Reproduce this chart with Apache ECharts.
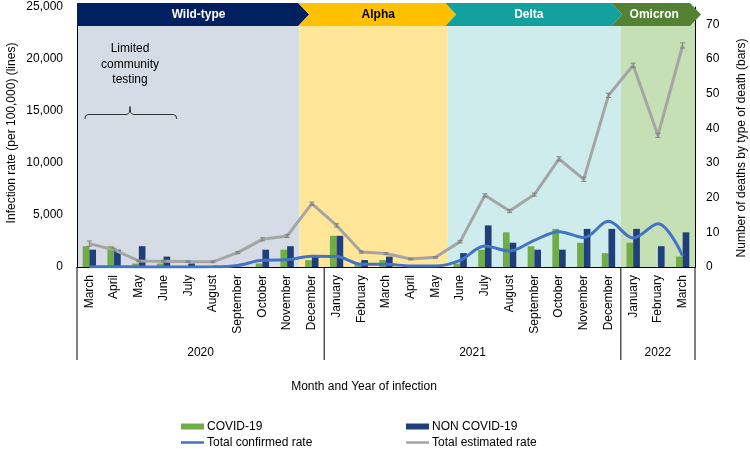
<!DOCTYPE html>
<html><head><meta charset="utf-8">
<script src="https://cdn.jsdelivr.net/npm/echarts@6/dist/echarts.min.js"></script>
<style>html,body{margin:0;padding:0;background:#fff}#c{width:750px;height:449px}</style>
</head><body><div id="c"></div>
<script>
// ---------- DATA ----------
const months = ['March','April','May','June','July','August','September','October','November','December',
  'January','February','March','April','May','June','July','August','September','October','November','December',
  'January','February','March'];
const years = ['2020','2021','2022'];
const yearFirst = [0, 10, 22];
const yearLast = [9, 21, 24];
const variants = ['Wild-type','Alpha','Delta','Omicron'];
const variantFirst = [0, 9, 15, 22];
const variantLast = [8, 14, 21, 24];
const covidDeaths =    [6, 6, 1, 1, 0, 0, 0, 1, 5, 2,  9, 1, 2, 0, 0, 1, 5, 10, 6, 11, 7, 4,  7, 0, 3];
const nonCovidDeaths = [5, 5, 6, 3, 1, 0, 0, 5, 6, 3,  9, 2, 3, 0, 0, 4, 12, 7, 5, 5, 11, 11,  11, 6, 10];
const confirmedRate = [30, 20, 10, 10, 10, 20, 150, 650, 700, 1030, 1000, 260, 260, 100, 100, 640, 2020, 1540, 2570, 3400, 2830, 4390, 2790, 4170, 1060];
const estimatedRate = [2250, 1650, 580, 550, 520, 500, 1380, 2660, 2980, 6090, 4000, 1440, 1290, 770, 930, 2440, 6890, 5380, 6960, 10400, 8430, 16500, 19400, 12660, 21300];
const estimatedErrLow = [250, 150, 80, 80, 80, 80, 100, 150, 150, 150, 150, 100, 100, 80, 80, 120, 150, 150, 150, 200, 200, 200, 200, 200, 250];
const estimatedErrHigh = [250, 150, 80, 80, 80, 80, 100, 150, 150, 150, 150, 100, 100, 80, 80, 120, 150, 150, 150, 200, 200, 200, 200, 200, 250];
const leftAxisMax = 25000, leftAxisStep = 5000;
const rightAxisMax = 75, rightAxisStep = 10;
const seriesNames = ['COVID-19', 'NON COVID-19', 'Total confirmed rate', 'Total estimated rate'];
const axisTitleLeft = 'Infection rate (per 100,000) (lines)';
const axisTitleRight = 'Number of deaths by type of death (bars)';
const axisTitleX = 'Month and Year of infection';
const noteText = 'Limited\ncommunity\ntesting';

// ---------- STYLE ----------
const FONT = '"Liberation Sans", Arial, sans-serif';
const bandFill = ['#D6DCE5', '#FFE699', '#CDECEB', '#C5E0B4'];
const bannerFill = ['#002060', '#FFC000', '#12A19C', '#548235'];
const bannerTextColor = ['#ffffff', '#000000', '#ffffff', '#ffffff'];
const bannerInset = [1.3, 2.5, 9.4, 5];
const bannerTextShift = [11, 1, -5, -2];
const bannerTip = 11, bannerTop = 3, bannerBottom = 26;

const fmt = v => String(v).replace(/\B(?=(\d{3})+(?!\d))/g, ',');

const chart = echarts.init(document.getElementById('c'), null, {renderer: 'canvas'});

function bandItem(params, api) {
  const i = params.dataIndex;
  const bw = api.size([1, 0])[0];
  const x0 = api.coord([api.value(0), 0])[0] - bw / 2;
  const x1 = api.coord([api.value(1), 0])[0] + bw / 2;
  const cs = params.coordSys;
  return {type: 'rect', shape: {x: x0, y: cs.y, width: x1 - x0, height: cs.height},
    style: {fill: bandFill[i]}, silent: true};
}

function bannerItem(params, api) {
  const i = params.dataIndex;
  const bw = api.size([1, 0])[0];
  const cs = params.coordSys;
  const rightEdge = k => api.coord([k, 0])[0] + bw / 2;
  const bodyEnd = j => rightEdge(variantLast[j]) - bannerInset[j];
  const x0 = i === 0 ? cs.x : bodyEnd(i - 1);
  const notch = i === 0 ? 0 : bannerTip;
  const x1 = bodyEnd(i);
  const tip = x1 + bannerTip;
  const mid = (bannerTop + bannerBottom) / 2;
  const pts = [[x0, bannerTop], [x1, bannerTop], [tip, mid], [x1, bannerBottom], [x0, bannerBottom], [x0 + notch, mid]];
  return {type: 'group', children: [
    {type: 'polygon', shape: {points: pts}, style: {fill: bannerFill[i]}},
    {type: 'text', style: {text: variants[i], x: (x0 + notch + x1) / 2 + bannerTextShift[i], y: mid + 0.5,
      align: 'center', verticalAlign: 'middle', fill: bannerTextColor[i],
      font: 'bold 12px ' + FONT}}
  ]};
}

function errItem(params, api) {
  const lo = api.coord([api.value(0), api.value(1)]);
  const hi = api.coord([api.value(0), api.value(2)]);
  const st = {stroke: '#7F7F7F', lineWidth: 1};
  return {type: 'group', children: [
    {type: 'line', shape: {x1: lo[0], y1: lo[1], x2: hi[0], y2: hi[1]}, style: st},
    {type: 'line', shape: {x1: lo[0] - 2.5, y1: lo[1], x2: lo[0] + 2.5, y2: lo[1]}, style: st},
    {type: 'line', shape: {x1: hi[0] - 2.5, y1: hi[1], x2: hi[0] + 2.5, y2: hi[1]}, style: st}
  ]};
}

const variantData = variants.map((v, i) => [variantFirst[i], variantLast[i], 0]);
const errData = estimatedRate.map((v, i) => [i, v - estimatedErrLow[i], v + estimatedErrHigh[i]]);

const legendText = {fontSize: 12, color: '#000', fontFamily: FONT, padding: [0, 0, 0, -2]};
const mkLegend = (name, left, top, h) => ({left: left, top: top, padding: 0, orient: 'horizontal', itemWidth: 23, itemHeight: h,
  icon: 'rect', data: [name], textStyle: legendText, selectedMode: false});

const option = {
  animation: false,
  grid: {left: 77, right: 55, top: 7, bottom: 182, containLabel: false, outerBoundsMode: 'none'},
  legend: [
    mkLegend(seriesNames[0], 181, 420.5, 6),
    mkLegend(seriesNames[1], 406, 420.5, 6),
    mkLegend(seriesNames[2], 181, 436.5, 2.5),
    mkLegend(seriesNames[3], 406, 436.5, 2.5)
  ],
  xAxis: {
    type: 'category', data: months, boundaryGap: true,
    axisLine: {show: true, lineStyle: {color: '#000', width: 1}},
    axisTick: {show: false},
    axisLabel: {interval: 0, rotate: 90, margin: 8, fontSize: 12, color: '#000', fontFamily: FONT},
    splitLine: {show: false}
  },
  yAxis: [
    {type: 'value', min: 0, max: leftAxisMax, interval: leftAxisStep, position: 'left',
      axisLine: {show: true, lineStyle: {color: '#000', width: 1}}, axisTick: {show: false},
      splitLine: {show: false},
      axisLabel: {formatter: fmt, fontSize: 12, color: '#000', fontFamily: FONT, margin: 14}},
    {type: 'value', min: 0, max: rightAxisMax, interval: rightAxisStep, position: 'right',
      axisLine: {show: true, lineStyle: {color: '#000', width: 1}}, axisTick: {show: false},
      splitLine: {show: false},
      axisLabel: {showMaxLabel: false, formatter: v => (v > 70 ? '' : String(v)), fontSize: 12, color: '#000', fontFamily: FONT, margin: 11}}
  ],
  series: [
    {type: 'custom', name: 'bands', renderItem: bandItem, data: variantData, encode: {x: [0, 1], y: 2},
      z: 0, silent: true, clip: false, xAxisIndex: 0, yAxisIndex: 0},
    {type: 'bar', name: seriesNames[0], data: covidDeaths, yAxisIndex: 1, barGap: '0%', barCategoryGap: '46%',
      itemStyle: {color: '#70AD47'}, z: 2},
    {type: 'bar', name: seriesNames[1], data: nonCovidDeaths, yAxisIndex: 1, barGap: '0%', barCategoryGap: '46%',
      itemStyle: {color: '#203F7A'}, z: 2},
    {type: 'line', name: seriesNames[2], data: confirmedRate, yAxisIndex: 0, smooth: 0.35, symbol: 'none',
      lineStyle: {color: '#4472C4', width: 3}, itemStyle: {color: '#4472C4'}, z: 5},
    {type: 'line', name: seriesNames[3], data: estimatedRate, yAxisIndex: 0, smooth: false, symbol: 'none',
      lineStyle: {color: '#A5A5A5', width: 3}, itemStyle: {color: '#A5A5A5'}, z: 4},
    {type: 'custom', name: 'err', renderItem: errItem, data: errData, encode: {x: 0, y: [1, 2]},
      z: 6, silent: true, clip: false, yAxisIndex: 0},
    {type: 'custom', name: 'banner', renderItem: bannerItem, data: variantData, encode: {x: [0, 1], y: 2},
      z: 10, silent: true, clip: false, yAxisIndex: 0}
  ]
};
chart.setOption(option);

// annotations computed from the axis scales
const cx = i => chart.convertToPixel({xAxisIndex: 0}, i);
const bw = cx(1) - cx(0);
const yZero = chart.convertToPixel({yAxisIndex: 0}, 0);
const lowLine = yZero + 93;
const g = [];
const seps = [cx(0) - bw / 2].concat(yearLast.map(k => cx(k) + bw / 2));
seps.forEach(x => g.push({type: 'line', z: 100, shape: {x1: x, y1: yZero, x2: x, y2: lowLine},
  style: {stroke: '#000', lineWidth: 1}}));
years.forEach((y, i) => {
  const xc = (cx(yearFirst[i]) + cx(yearLast[i])) / 2;
  g.push({type: 'text', z: 100, style: {text: y, x: xc, y: yZero + 86, align: 'center', verticalAlign: 'middle',
    font: '12px ' + FONT, fill: '#000'}});
});
g.push({type: 'text', z: 100, style: {text: axisTitleX, x: 364, y: 387, align: 'center', verticalAlign: 'middle',
  font: '12px ' + FONT, fill: '#000'}});
g.push({type: 'text', z: 100, x: 12, y: 133, rotation: Math.PI / 2,
  style: {text: axisTitleLeft, x: 0, y: 0, align: 'center', verticalAlign: 'middle', font: '12px ' + FONT, fill: '#000'}});
g.push({type: 'text', z: 100, x: 742, y: 148, rotation: Math.PI / 2,
  style: {text: axisTitleRight, x: 0, y: 0, align: 'center', verticalAlign: 'middle', font: '12px ' + FONT, fill: '#000'}});
g.push({type: 'text', z: 100, style: {text: noteText, x: 130, y: 64.5, align: 'center', verticalAlign: 'middle',
  lineHeight: 15.5, font: '12px ' + FONT, fill: '#000'}});
g.push({type: 'polyline', z: 100, shape: {points: [[85, 119], [85.4, 116], [88, 114.5], [127, 114.5], [129.4, 112.5],
  [130, 106.5], [130.6, 112.5], [133, 114.5], [173.5, 114.5], [176.1, 116], [176.5, 119]]},
  style: {stroke: '#333', fill: null, lineWidth: 1}});
chart.setOption({graphic: {elements: g}});
</script></body></html>
